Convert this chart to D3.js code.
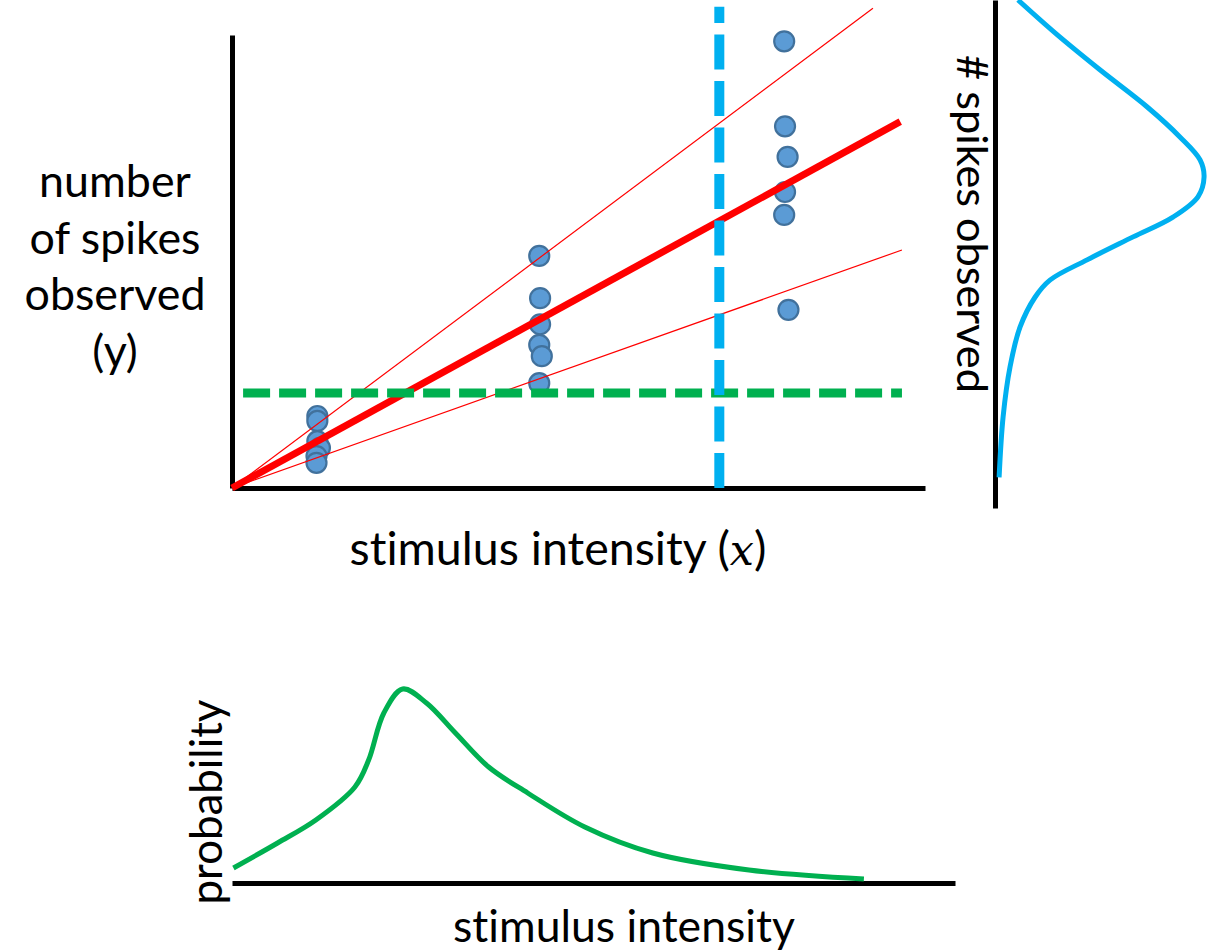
<!DOCTYPE html>
<html>
<head>
<meta charset="utf-8">
<script src="https://cdn.jsdelivr.net/npm/d3@7"></script>
<style>
  body { margin: 0; background: #fff; }
  svg { display: block; }
  text { font-family: Lato, "Open Sans", sans-serif; fill: #000; font-variant-ligatures: none; }
</style>
</head>
<body>
<div id="plot"></div>
<script>
/* values */
var pointX = [1.0, 1.0, 1.0, 1.03, 0.99, 0.99,
              3.6, 3.61, 3.61, 3.6, 3.63, 3.6,
              6.47, 6.48, 6.51, 6.48, 6.47, 6.52];
var pointY = [1.6, 1.49, 1.04, 0.89, 0.71, 0.56,
              5.16, 4.22, 3.64, 3.18, 2.93, 2.33,
              9.93, 8.04, 7.36, 6.58, 6.07, 3.96];

// fitted line through origin + two thin ones
var lineSlopes = [1.42, 0.674, 1.04];
var lineEndX   = [7.51, 7.85, 7.83];
var lineWidths = [1.2, 1.2, 7];

var thresholdY = 2.11;          // green dashed (spike count)
var thresholdXRange = [0.13, 7.85];
var stimulusX = 5.71;           // blue dashed
var stimulusYRange = [0, 10.7];

// right panel: distribution of spike counts
var spikeVals = [10.84, 10.07, 9.29, 8.47, 7.8, 7.29, 6.91, 6.47, 6.02, 5.58, 5.07, 4.62, 4.24, 3.58, 2.69, 1.58, 0.24];
var spikeDens = [0.1, 0.286, 0.49, 0.714, 0.871, 0.967, 0.986, 0.957, 0.838, 0.648, 0.429, 0.252, 0.181, 0.11, 0.062, 0.029, 0.01];

// bottom panel: prior over stimulus intensity
var stimVals = [0.02, 0.63, 1.16, 1.70, 1.89, 2.10, 2.36, 2.69, 3.09, 3.55, 4.09, 4.88, 5.82, 7.15, 8.74];
var stimProb = [0.075, 0.2, 0.315, 0.48, 0.615, 0.85, 0.97, 0.9, 0.75, 0.58, 0.45, 0.28, 0.15, 0.065, 0.02];

var yLabelLines = ["number", "of spikes", "observed", "(y)"];

var W = 1219, H = 951;
var svg = d3.select('#plot').append('svg')
    .attr('width', W)
    .attr('height', H);

/* main panel scales */
var x = d3.scaleLinear().domain([0, 8.12]).range([232, 925]);
var y = d3.scaleLinear().domain([0, 10.07]).range([488, 35]);

// axes with no ticks, only the domain line
svg.append('g')
    .attr('transform', 'translate(0,' + y(0) + ')')
    .call(d3.axisBottom(x).tickValues([]).tickSizeOuter(0))
    .call(function(g){ g.select('.domain').attr('stroke', '#000').attr('stroke-width', 5); });

svg.append('g')
    .attr('transform', 'translate(' + x(0) + ',0)')
    .call(d3.axisLeft(y).tickValues([]).tickSizeOuter(0))
    .call(function(g){ g.select('.domain').attr('stroke', '#000').attr('stroke-width', 5); });

// data points
var pts = pointX.map(function(d, i){ return {x: d, y: pointY[i]}; });
svg.selectAll('.node')
    .data(pts)
    .enter()
    .append('circle')
    .attr('class', 'node')
    .attr('cx', function(d){ return x(d.x); })
    .attr('cy', function(d){ return y(d.y); })
    .attr('r', 10)
    .style('fill', '#5b9bd5')
    .style('stroke', '#41719c')
    .style('stroke-width', 2.2);

// red lines from origin
var lines = lineSlopes.map(function(s, i){ return {s: s, xe: lineEndX[i], w: lineWidths[i]}; });
svg.selectAll('.fit')
    .data(lines)
    .enter()
    .append('line')
    .attr('class', 'fit')
    .attr('x1', x(0)).attr('y1', y(0))
    .attr('x2', function(d){ return x(d.xe); })
    .attr('y2', function(d){ return y(d.s * d.xe); })
    .style('stroke', '#ff0000')
    .style('stroke-width', function(d){ return d.w; });

// green dashed threshold
svg.append('line')
    .attr('x1', x(thresholdXRange[0])).attr('x2', x(thresholdXRange[1]))
    .attr('y1', y(thresholdY)).attr('y2', y(thresholdY))
    .style('stroke', '#00b050')
    .style('stroke-width', 9)
    .style('stroke-dasharray', '27,9');

// blue dashed stimulus
svg.append('line')
    .attr('x1', x(stimulusX)).attr('x2', x(stimulusX))
    .attr('y1', y(stimulusYRange[0])).attr('y2', y(stimulusYRange[1]))
    .style('stroke', '#00b0f0')
    .style('stroke-width', 10)
    .style('stroke-dasharray', '35,11.5');

/* right panel */
var ry = d3.scaleLinear().domain([-0.44, 10.84]).range([508, 0]);
var rx = d3.scaleLinear().domain([0, 1]).range([997, 1207]);

svg.append('g')
    .attr('transform', 'translate(995,0)')
    .call(d3.axisLeft(ry).tickValues([]).tickSizeOuter(0))
    .call(function(g){ g.select('.domain').attr('stroke', '#000').attr('stroke-width', 5); });

svg.append('path')
    .datum(spikeVals.map(function(v, i){ return [v, spikeDens[i]]; }))
    .attr('fill', 'none')
    .attr('stroke', '#00b0f0')
    .attr('stroke-width', 5)
    .attr('d', d3.line()
        .x(function(d){ return rx(d[1]); })
        .y(function(d){ return ry(d[0]); })
        .curve(d3.curveCatmullRom));

/* bottom panel */
var bx = d3.scaleLinear().domain([0, 10]).range([232, 955]);
var by = d3.scaleLinear().domain([0, 1]).range([883, 683]);

svg.append('g')
    .attr('transform', 'translate(0,' + by(0) + ')')
    .call(d3.axisBottom(bx).tickValues([]).tickSizeOuter(0))
    .call(function(g){ g.select('.domain').attr('stroke', '#000').attr('stroke-width', 5); });

svg.append('path')
    .datum(stimVals.map(function(v, i){ return [v, stimProb[i]]; }))
    .attr('fill', 'none')
    .attr('stroke', '#00b050')
    .attr('stroke-width', 5)
    .attr('d', d3.line()
        .x(function(d){ return bx(d[0]); })
        .y(function(d){ return by(d[1]); })
        .curve(d3.curveCatmullRom));

/* labels */
// scale a text so its width matches the width measured in the picture
function fit(sel, target) {
    var w = sel.node().getComputedTextLength();
    var fs = parseFloat(sel.attr('font-size'));
    sel.attr('font-size', fs * target / w);
    return fs * target / w;
}

var yl = svg.append('g');
var yLines = yl.selectAll('text')
    .data(yLabelLines)
    .enter()
    .append('text')
    .attr('x', 115)
    .attr('y', function(d, i){ return 197 + i * 56.5; })
    .attr('text-anchor', 'middle')
    .attr('font-size', 46)
    .text(function(d){ return d; });
var fsY = fit(yLines.filter(function(d){ return d == 'observed'; }), 181);
yLines.attr('font-size', fsY);

var xl = svg.append('text')
    .attr('x', 558)
    .attr('y', 565)
    .attr('text-anchor', 'middle')
    .attr('font-size', 44);
xl.append('tspan').text('stimulus intensity (');
xl.append('tspan').style('font-family', '"DejaVu Serif", serif').style('font-style', 'italic').attr('font-size', '0.92em').text('x');
xl.append('tspan').text(')');
fit(xl, 417);

var sl = svg.append('text')
    .attr('transform', 'translate(957,224) rotate(90)')
    .attr('text-anchor', 'middle')
    .attr('font-size', 44)
    .text('# spikes observed');
fit(sl, 338);

var pl = svg.append('text')
    .attr('transform', 'translate(222,802) rotate(-90)')
    .attr('text-anchor', 'middle')
    .attr('font-size', 44)
    .text('probability');
fit(pl, 205);

var bl = svg.append('text')
    .attr('x', 624)
    .attr('y', 942)
    .attr('text-anchor', 'middle')
    .attr('font-size', 44)
    .text('stimulus intensity');
fit(bl, 342);
</script>
</body>
</html>
